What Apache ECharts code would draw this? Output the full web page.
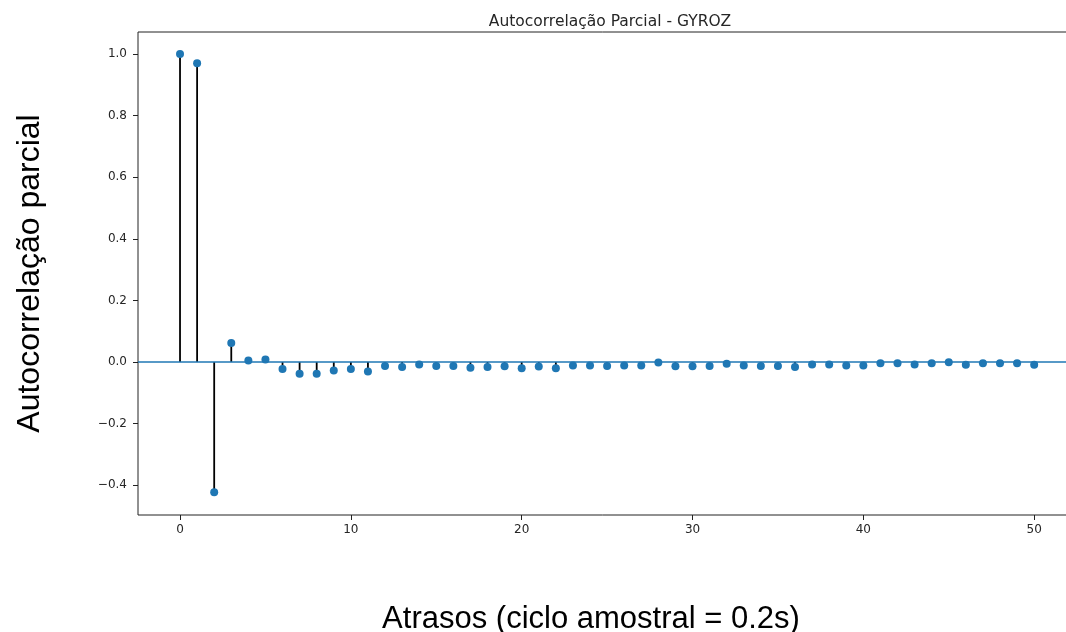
<!DOCTYPE html>
<html>
<head>
<meta charset="utf-8">
<script src="https://cdn.jsdelivr.net/npm/echarts@6/dist/echarts.min.js"></script>
<style>
  html, body { margin: 0; padding: 0; background: #fff; }
  #chart { width: 1066px; height: 632px; }
</style>
</head>
<body>
<div id="chart"></div>
<script>
// lags (ciclo amostral = 0.2s)
const lags = [0, 1, 2, 3, 4, 5, 6, 7, 8, 9, 10, 11, 12, 13, 14, 15, 16, 17, 18, 19, 20,
  21, 22, 23, 24, 25, 26, 27, 28, 29, 30, 31, 32, 33, 34, 35, 36, 37, 38, 39, 40,
  41, 42, 43, 44, 45, 46, 47, 48, 49, 50];
// partial autocorrelation values
const pacf = [1.0, 0.970, -0.423, 0.062, 0.005, 0.008, -0.023, -0.038, -0.038, -0.028, -0.023,
  -0.031, -0.013, -0.016, -0.008, -0.013, -0.013, -0.019, -0.016, -0.014, -0.020,
  -0.015, -0.020, -0.011, -0.011, -0.013, -0.011, -0.011, -0.002, -0.014, -0.014,
  -0.013, -0.006, -0.011, -0.013, -0.013, -0.016, -0.008, -0.008, -0.011, -0.011,
  -0.004, -0.004, -0.008, -0.004, -0.001, -0.009, -0.004, -0.004, -0.004, -0.009];
const xTicks = [0, 10, 20, 30, 40, 50];
const yTicks = [-0.4, -0.2, 0.0, 0.2, 0.4, 0.6, 0.8, 1.0];

const points = lags.map((l, i) => [l, pacf[i]]);
const chart = echarts.init(document.getElementById("chart"));

const tickFont = { fontFamily: "DejaVu Sans", fontSize: 12, color: "#262626" };

const option = {
  animation: false,
  title: {
    text: "Autocorrelação Parcial - GYROZ",
    left: 605,
    textAlign: "center",
    top: 9,
    textStyle: { fontFamily: "DejaVu Sans", fontSize: 15.5, fontWeight: "normal", color: "#262626" },
  },
  grid: {
    left: 138,
    right: -2,
    top: 32,
    bottom: 117,
    outerBoundsMode: "none",
    show: true,
    borderColor: "#222",
    borderWidth: 1,
  },
  xAxis: {
    type: "value",
    min: -2.46,
    max: 51.98,
    name: "Atrasos (ciclo amostral = 0.2s)",
    nameLocation: "middle",
    nameGap: 89,
    nameTextStyle: {
      fontFamily: "Liberation Sans",
      fontSize: 31,
      color: "#000",
      padding: [0, 24, 0, 0],
    },
    splitLine: { show: false },
    axisLine: { show: false, onZero: false },
    axisTick: { show: true, length: 5, lineStyle: { color: "#222" }, customValues: xTicks },
    axisLabel: { ...tickFont, margin: 9, customValues: xTicks },
  },
  yAxis: {
    type: "value",
    min: -0.4968,
    max: 1.0714,
    name: "Autocorrelação parcial",
    nameLocation: "middle",
    nameGap: 92,
    nameRotate: 90,
    nameTextStyle: { fontFamily: "Liberation Sans", fontSize: 32, color: "#000" },
    splitLine: { show: false },
    axisLine: { show: false, onZero: false },
    axisTick: { show: true, length: 5, lineStyle: { color: "#222" }, customValues: yTicks },
    axisLabel: {
      ...tickFont,
      margin: 11,
      customValues: yTicks,
      formatter: (v) => v.toFixed(1).replace("-", "\u2212"),
    },
  },
  series: [
    {
      // stems
      type: "custom",
      data: points,
      z: 2,
      renderItem: (params, api) => {
        const base = api.coord([api.value(0), 0]);
        const top = api.coord([api.value(0), api.value(1)]);
        return {
          type: "line",
          shape: { x1: base[0], y1: base[1], x2: top[0], y2: top[1] },
          style: { stroke: "#000", lineWidth: 1.8 },
        };
      },
    },
    {
      type: "scatter",
      data: points,
      symbol: "circle",
      symbolSize: 8,
      z: 4,
      itemStyle: { color: "#1f77b4", opacity: 1 },
      markLine: {
        silent: true,
        symbol: "none",
        label: { show: false },
        lineStyle: { color: "#1f77b4", width: 1.5, type: "solid" },
        data: [{ yAxis: 0 }],
        z: 3,
      },
    },
  ],
};

chart.setOption(option);
</script>
</body>
</html>
